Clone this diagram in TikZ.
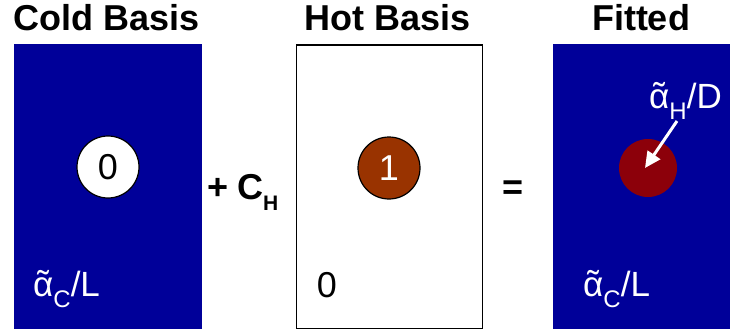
\documentclass[tikz,border=0pt]{standalone}
\usepackage{fontspec}
\setmainfont{Liberation Sans}
\usetikzlibrary{arrows.meta,shapes.geometric}
\definecolor{navy}{RGB}{0,0,153}
\definecolor{rust}{RGB}{153,51,0}
\definecolor{deepred}{RGB}{140,0,10}
\newcommand\talpha{\ooalign{α\cr\hidewidth\raisebox{0.02em}{\char"02DC}\hidewidth\cr}}
\begin{document}
\begin{tikzpicture}[x=1pt,y=-1pt,
  panel/.style={rectangle,anchor=north west,inner sep=0pt,minimum width=188pt,minimum height=285pt},
  title/.style={font=\fontsize{36}{40}\selectfont\bfseries,anchor=base,inner sep=0pt},
  lbl/.style={font=\fontsize{35}{40}\selectfont,anchor=base west,inner sep=0pt},
  digit/.style={font=\fontsize{36}{40}\selectfont,inner sep=0pt},
  op/.style={font=\fontsize{36}{40}\selectfont\bfseries,anchor=base,inner sep=0pt},
  blob/.style={circle,minimum size=62pt,inner sep=0pt}]
\useasboundingbox (0,0) rectangle (731,329);
% panels
\node[panel,fill=navy] (cold) at (14,44) {};
\node[panel,draw=black,line width=1.6pt,minimum width=186pt,minimum height=284pt] (hot) at (295.5,44) {};
\node[panel,fill=navy,minimum width=177pt] (fit) at (553,44) {};
% titles
\node[title] (tcold) at (107,31) {Cold Basis};
\node[title] (thot) at (388,31) {Hot Basis};
\node[title] (tfit) at (641,31) {Fitted};
% circles
\node[blob,draw=black,line width=1.2pt,fill=white] (c0) at (108,167) {};
\node[digit,text=black] at (c0.center) {0};
\node[blob,draw=black,line width=1.2pt,fill=rust] (c1) at (389,168) {};
\node[digit,text=white] at (c1.center) {1};
\node[blob,fill=deepred,minimum size=58pt] (cf) at (648,168) {};
% operators
\node[op] (plus) at (218,199) {+};
\node[op,anchor=base west] (ch) at (237,199) {C\raisebox{-11pt}{\fontsize{21}{24}\selectfont H}};
\node[op] (eq) at (513,199) {=};
% labels
\node[lbl,text=white] (lc) at (33,296) {\talpha\raisebox{-11pt}{\fontsize{24}{28}\selectfont C}/L};
\node[lbl,text=white] (lf) at (583,296) {\talpha\raisebox{-11pt}{\fontsize{24}{28}\selectfont C}/L};
\node[lbl,text=white] (lh) at (649,108) {\talpha\raisebox{-11pt}{\fontsize{24}{28}\selectfont H}/D};
\node[digit,anchor=base] (z) at (327,297) {0};
% arrow
\coordinate (tip) at (645,168);
\draw[white,line width=3pt,-{Triangle[length=16pt,width=15pt]}] (677,121) -- (tip);
\end{tikzpicture}
\end{document}
